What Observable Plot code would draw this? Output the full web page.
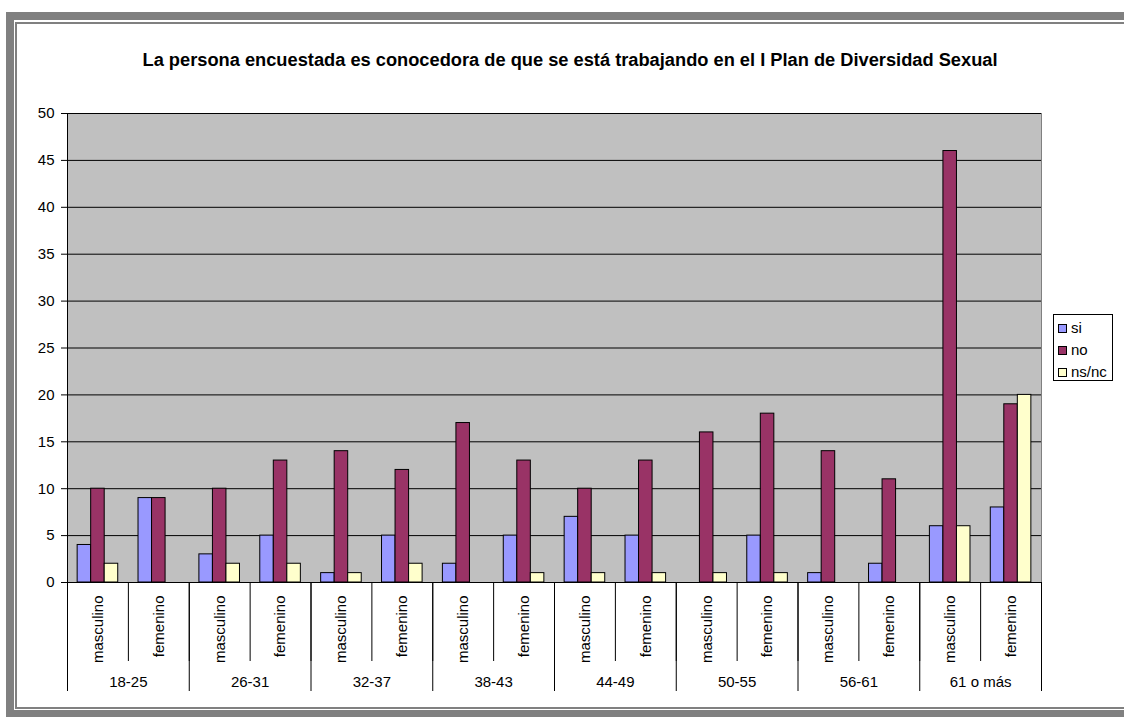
<!DOCTYPE html>
<html>
<head>
<meta charset="utf-8">
<script src="https://cdn.jsdelivr.net/npm/d3@7"></script>
<script src="https://cdn.jsdelivr.net/npm/@observablehq/plot@0.6"></script>
<style>
  html, body { margin: 0; padding: 0; background: white; width: 1124px; height: 717px; overflow: hidden; }
  body { position: relative; font-family: "Liberation Sans", Arial, sans-serif; }
  .outer { position: absolute; left: 6px; top: 12px; right: -20px; bottom: 0; box-sizing: border-box;
           border-left: 8px solid #808080; border-top: 8px solid #808080; border-bottom: 7px solid #808080; }
  .inner { position: absolute; left: 1px; top: 2px; right: 0; bottom: 1px; box-sizing: border-box;
           border-left: 2px solid #808080; border-top: 2px solid #808080; border-bottom: 2px solid #808080; }
  #title { position: absolute; left: 16px; width: 1108px; top: 50px; text-align: center;
           font-weight: bold; font-size: 18.25px; line-height: 20px; color: black; }
  #chart { position: absolute; left: 0; top: 100px; }
  #legend { position: absolute; left: 1053px; top: 314px; width: 60px; height: 67px; box-sizing: border-box;
            border: 1px solid black; background: white; font-size: 15px; }
  .item { position: absolute; left: 4px; height: 20px; line-height: 20px; white-space: nowrap; }
  .sw { display: inline-block; width: 9px; height: 9px; border: 1px solid black; box-sizing: border-box;
        vertical-align: middle; margin-right: 4px; position: relative; top: -1px; }
</style>
</head>
<body>
<div class="outer"><div class="inner"></div></div>
<div id="title"></div>
<div id="chart"></div>
<div id="legend"></div>
<script>
const title = "La persona encuestada es conocedora de que se está trabajando en el I Plan de Diversidad Sexual";
const groups = ["18-25", "26-31", "32-37", "38-43", "44-49", "50-55", "56-61", "61 o más"];
const sexes = ["masculino", "femenino"];
const series = ["si", "no", "ns/nc"];
const colors = ["#9999FF", "#993366", "#FFFFCC"];
// one value per subcategory, in order: group × sex
const si   = [4, 9, 3, 5, 1, 5, 2, 5, 7, 5, 0, 5, 1, 2, 6, 8];
const no   = [10, 9, 10, 13, 14, 12, 17, 13, 10, 13, 16, 18, 14, 11, 46, 19];
const nsnc = [2, 0, 2, 2, 1, 2, 0, 1, 1, 1, 1, 1, 0, 0, 6, 20];
const yTicks = [0, 5, 10, 15, 20, 25, 30, 35, 40, 45, 50];

const values = [si, no, nsnc];
const subcats = [];
groups.forEach((g, gi) => sexes.forEach((s, j) => subcats.push({i: gi * 2 + j, group: g, sex: s})));
const rows = [];
subcats.forEach(c => series.forEach((s, k) => {
  const v = values[k][c.i];
  if (v > 0) rows.push({i: c.i, k, series: s, value: v});
}));
// Excel-like clustered layout: 3 bars + gap of 1.5 bar widths per category
const slot = 1 / 4.5;

document.getElementById("title").textContent = title;

const chart = Plot.plot({
  width: 1124,
  height: 600,
  marginTop: 13,
  marginBottom: 118,
  marginLeft: 67,
  marginRight: 83,
  style: {fontFamily: "'Liberation Sans', Arial, sans-serif", fontSize: "15px", background: "transparent", color: "black", overflow: "visible"},
  x: {domain: [0, subcats.length], axis: null},
  y: {domain: [0, 50], axis: null},
  color: {domain: series, range: colors},
  marks: [
    Plot.frame({fill: "#C0C0C0", stroke: "#808080"}),
    Plot.gridY(yTicks.slice(1), {stroke: "#000", strokeOpacity: 1}),
    Plot.rectY(rows, {
      x1: d => d.i + (0.75 + d.k) * slot,
      x2: d => d.i + (1.75 + d.k) * slot,
      y1: 0, y2: "value",
      fill: "series", stroke: "black", strokeWidth: 1
    }),
    Plot.ruleY([0], {stroke: "black"}),
    Plot.ruleX([0], {stroke: "black"}),
    Plot.axisY(yTicks, {tickSize: 6, tickPadding: 7, fontSize: 15, stroke: "black", label: null}),
    Plot.axisX(d3.range(0, subcats.length + 1), {tickSize: 79, tickFormat: () => "", stroke: "black", label: null}),
    Plot.axisX(d3.range(0, subcats.length + 1, 2), {tickSize: 109, tickFormat: () => "", stroke: "black", label: null}),
    Plot.text(subcats, {x: d => d.i + 0.5, text: "sex", frameAnchor: "bottom", rotate: -90,
      textAnchor: "end", lineAnchor: "middle", dy: 13, fontSize: 15, fill: "black"}),
    Plot.text(groups, {x: (d, gi) => gi * 2 + 1, text: d => d, frameAnchor: "bottom",
      lineAnchor: "middle", dy: 100, fontSize: 15, fill: "black"})
  ]
});
document.getElementById("chart").appendChild(chart);

const legend = d3.select("#legend");
series.forEach((s, k) => {
  const item = legend.append("div").attr("class", "item").style("top", (3 + k * 22) + "px");
  item.append("span").attr("class", "sw").style("background", colors[k]);
  item.append("span").text(s);
});
</script>
</body>
</html>
